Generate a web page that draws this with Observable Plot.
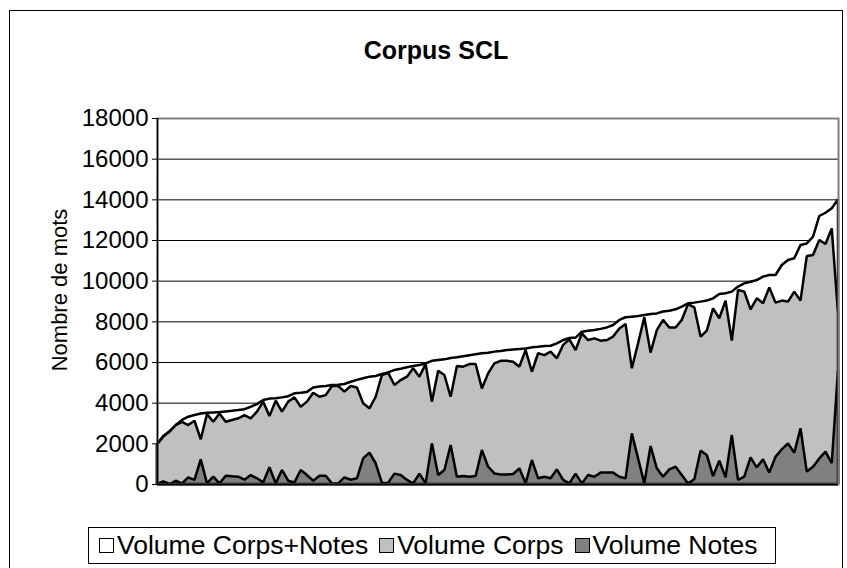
<!DOCTYPE html>
<html>
<head>
<meta charset="utf-8">
<script src="https://cdn.jsdelivr.net/npm/d3@7"></script>
<script src="https://cdn.jsdelivr.net/npm/@observablehq/plot@0.6"></script>
<style>
  html, body { margin: 0; padding: 0; background: #fff; overflow: hidden; }
  body { width: 847px; height: 568px; position: relative; font-family: "Liberation Sans", Arial, sans-serif; }
  #frame { position: absolute; left: 9px; top: 10px; width: 834px; height: 600px; border: 1px solid #000; box-sizing: border-box; }
  #chart { position: absolute; left: 0; top: 0; }
  #title { position: absolute; left: 0; width: 872px; top: 35px; text-align: center; font-weight: bold; font-size: 25px; line-height: 30px; color: #000; }
  #ytitle { position: absolute; left: 60px; top: 290px; transform: translate(-50%, -50%) rotate(-90deg); font-size: 22px; white-space: nowrap; color: #000; }
  #legend { position: absolute; left: 88px; top: 527px; width: 688px; height: 37px; border: 1px solid #000; box-sizing: border-box; display: flex; align-items: center; padding-left: 10px; font-size: 26.5px; color: #000; }
  .item { display: flex; align-items: center; margin-right: 11px; white-space: nowrap; }
  .sw { width: 15px; height: 15px; border: 1.5px solid #000; box-sizing: border-box; margin-right: 3px; }
</style>
</head>
<body>
<div id="frame"></div>
<div id="chart"></div>
<div id="title"></div>
<div id="ytitle"></div>
<div id="legend"></div>
<script>
// ---- data ----
const chartTitle = "Corpus SCL";
const yAxisTitle = "Nombre de mots";
const seriesNames = ["Volume Corps+Notes", "Volume Corps", "Volume Notes"];
const seriesColors = ["#ffffff", "#c0c0c0", "#808080"];
const yTicks = [0, 2000, 4000, 6000, 8000, 10000, 12000, 14000, 16000, 18000];

const volumeTotal = [
  1950, 2360, 2600, 2900, 3150, 3310, 3390, 3470, 3500, 3520,
  3540, 3570, 3600, 3640, 3680, 3800, 3930, 4130, 4200, 4220,
  4260, 4320, 4460, 4490, 4530, 4750, 4800, 4820, 4870, 4880,
  4920, 5030, 5120, 5200, 5280, 5310, 5410, 5490, 5610, 5670,
  5740, 5800, 5850, 5930, 6060, 6100, 6130, 6200, 6230, 6280,
  6330, 6380, 6430, 6460, 6510, 6540, 6590, 6620, 6640, 6660,
  6720, 6750, 6790, 6800, 6920, 7080, 7180, 7200, 7490, 7540,
  7570, 7630, 7700, 7820, 8070, 8200, 8230, 8260, 8310, 8360,
  8390, 8480, 8520, 8590, 8720, 8890, 8920, 8970, 9020, 9130,
  9340, 9380, 9460, 9710, 9870, 9950, 10030, 10200, 10280, 10280,
  10770, 11020, 11100, 11750, 11830, 12160, 13180, 13340, 13560, 14000
];
const volumeCorps = [
  1950, 2330, 2570, 2900, 3060, 2900, 3110, 2200, 3440, 3060,
  3470, 3060, 3150, 3230, 3390, 3230, 3560, 4050, 3340, 4100,
  3560, 4050, 4260, 3800, 4050, 4490, 4290, 4370, 4820, 4820,
  4540, 4820, 4750, 3970, 3720, 4290, 5360, 5470, 4870, 5110,
  5280, 5690, 5280, 5900, 4050, 5570, 5360, 4290, 5800, 5770,
  5900, 5900, 4700, 5440, 5930, 6060, 6060, 6010, 5770, 6590,
  5520, 6430, 6340, 6510, 6180, 6840, 7110, 6590, 7410, 7080,
  7160, 7050, 7080, 7250, 7650, 7870, 5690, 6920, 8200, 6460,
  7570, 8070, 7700, 7700, 8070, 8850, 8690, 7250, 7540, 8640,
  8150, 9020, 7050, 9540, 9460, 8590, 9130, 8890, 9670, 8920,
  9020, 8970, 9460, 9020, 11210, 11260, 12000, 11800, 12570, 8400
];
const volumeNotes = [
  0, 130, 0, 160, 30, 330, 200, 1210, 30, 360,
  30, 410, 380, 360, 210, 440, 280, 80, 820, 30,
  690, 160, 80, 690, 440, 160, 410, 410, 30, 30,
  330, 210, 280, 1260, 1540, 1020, 50, 65, 510, 440,
  200, 30, 510, 30, 2000, 440, 690, 1920, 360, 390,
  360, 390, 1670, 850, 520, 470, 470, 490, 770, 30,
  1180, 280, 360, 280, 720, 200, 30, 510, 30, 440,
  360, 560, 560, 560, 360, 280, 2490, 1260, 30, 1870,
  770, 360, 720, 850, 440, 30, 230, 1640, 1430, 390,
  1150, 330, 2410, 200, 360, 1310, 820, 1210, 560, 1340,
  1700, 2000, 1540, 2740, 610, 850, 1260, 1590, 1020, 5600
];

const idx = (d, i) => i;
const val = d => d;

const chart = Plot.plot({
  width: 847,
  height: 568,
  marginLeft: 157,
  marginRight: 9,
  marginTop: 118,
  marginBottom: 84,
  style: { fontFamily: "Liberation Sans, Arial, sans-serif", fontSize: "24px", color: "#000", background: "transparent", overflow: "visible" },
  x: { type: "linear", domain: [0, volumeTotal.length - 1], axis: null },
  y: { domain: [0, 18000], ticks: yTicks, tickFormat: d => String(d) },
  marks: [
    Plot.ruleY(yTicks, { stroke: "#000", strokeWidth: 1 }),
    Plot.areaY(volumeTotal, { x: idx, y: val, fill: seriesColors[0], stroke: "#000", strokeWidth: 2.5, strokeLinejoin: "miter" }),
    Plot.areaY(volumeCorps, { x: idx, y: val, fill: seriesColors[1], stroke: "#000", strokeWidth: 2.5, strokeLinejoin: "miter" }),
    Plot.areaY(volumeNotes, { x: idx, y: val, fill: seriesColors[2], stroke: "#000", strokeWidth: 2.5, strokeLinejoin: "miter" }),
    Plot.frame({ stroke: "#808080", strokeWidth: 2 }),
    Plot.ruleX([0], { stroke: "#000", strokeWidth: 1.5 }),
    Plot.ruleY([0], { stroke: "#000", strokeWidth: 1.5 }),
    Plot.axisY({ ticks: yTicks, tickSize: 5, tickPadding: 4, fontSize: 24, label: null, tickFormat: d => String(d) })
  ]
});
document.getElementById("chart").appendChild(chart);

document.getElementById("title").textContent = chartTitle;
document.getElementById("ytitle").textContent = yAxisTitle;
const legend = document.getElementById("legend");
seriesNames.forEach((name, k) => {
  const it = document.createElement("div");
  it.className = "item";
  const sw = document.createElement("div");
  sw.className = "sw";
  sw.style.background = seriesColors[k];
  const tx = document.createElement("span");
  tx.textContent = name;
  it.appendChild(sw);
  it.appendChild(tx);
  legend.appendChild(it);
});
</script>
</body>
</html>
